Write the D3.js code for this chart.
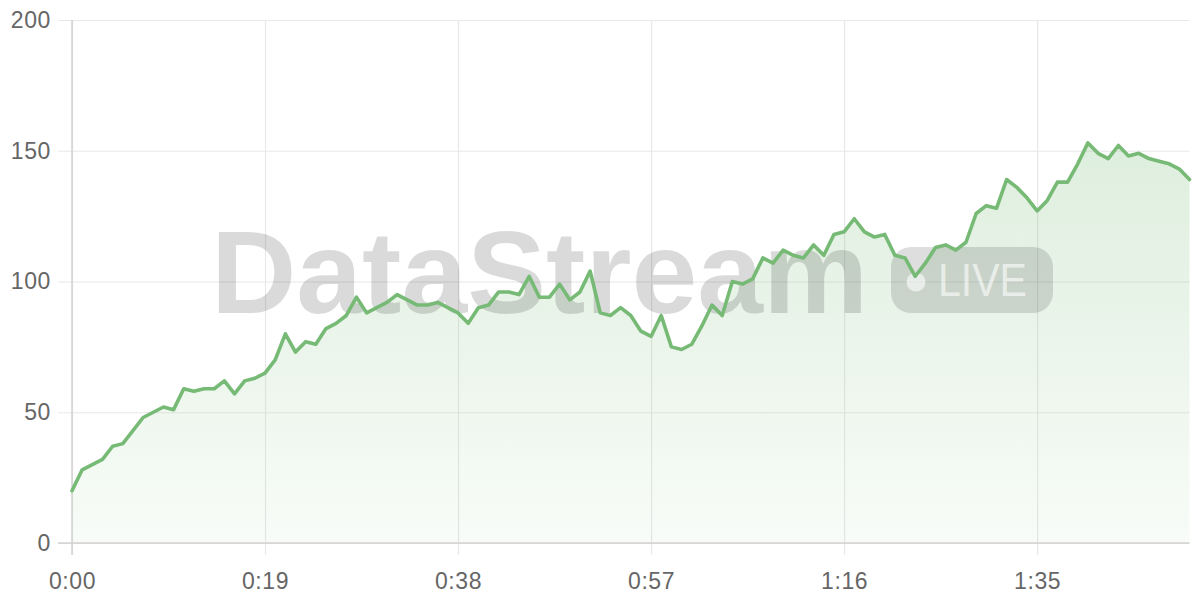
<!DOCTYPE html>
<html>
<head>
<meta charset="utf-8">
<script src="https://cdn.jsdelivr.net/npm/d3@7"></script>
<style>
  html, body { margin: 0; padding: 0; background: #fff; }
  svg { display: block; }
</style>
</head>
<body>
<svg id="chart" width="1200" height="600"></svg>
<script>
// ---- Data ----
const values = [
  20, 28, 30, 32, 37, 38, 43, 48, 50, 52,
  51, 59, 58, 59, 59, 62, 57, 62, 63, 65,
  70, 80, 73, 77, 76, 82, 84, 87, 94, 88,
  90, 92, 95, 93, 91, 91, 92, 90, 88, 84,
  90, 91, 96, 96, 95, 102, 94, 94, 99, 93,
  96, 104, 88, 87, 90, 87, 81, 79, 87, 75,
  74, 76, 83, 91, 87, 100, 99, 101, 109, 107,
  112, 110, 109, 114, 110, 118, 119, 124, 119, 117,
  118, 110, 109, 102, 107, 113, 114, 112, 115, 126,
  129, 128, 139, 136, 132, 127, 131, 138, 138, 145,
  153, 149, 147, 152, 148, 149, 147, 146, 145, 143,
  139
];
const seconds = values.map((_, i) => i);
const xTickSeconds = [0, 19, 38, 57, 76, 95];
const yTicks = [0, 50, 100, 150, 200];
const watermarkText = "DataStream";
const badgeText = "LIVE";

const fmtTime = s => Math.floor(s / 60) + ":" + String(s % 60).padStart(2, "0");

// ---- Layout ----
const svg = d3.select("#chart");
const mLeft = 72, mRight = 1189.5, mTop = 20, mBottom = 543;

const x = d3.scaleLinear().domain([0, 110]).range([mLeft, mRight]);
const y = d3.scaleLinear().domain([0, 200]).range([mBottom, mTop]);

const FONT = "'Liberation Sans', Arial, Helvetica, sans-serif";
const lineColor = "#76ba76";

// gradient
const defs = svg.append("defs");
const grad = defs.append("linearGradient")
  .attr("id", "fillGrad").attr("gradientUnits", "userSpaceOnUse")
  .attr("x1", 0).attr("y1", mTop).attr("x2", 0).attr("y2", mBottom);
grad.append("stop").attr("offset", 0).attr("stop-color", lineColor).attr("stop-opacity", 0.3);
grad.append("stop").attr("offset", 1).attr("stop-color", lineColor).attr("stop-opacity", 0.05);

// horizontal grid (y axis)
const yAxis = d3.axisLeft(y).tickValues(yTicks).tickSize(0).tickFormat(d3.format("d"));
const yg = svg.append("g").attr("transform", `translate(${mLeft},0)`).call(yAxis);
yg.select(".domain").remove();
yg.selectAll(".tick line").attr("x1", -14).attr("x2", mRight - mLeft)
  .attr("stroke", "#e8e8e8").attr("stroke-width", 1.2);
yg.selectAll(".tick text").attr("font-family", FONT).attr("font-size", 23)
  .attr("letter-spacing", 0.6).attr("fill", "#666").attr("x", -21);

// vertical grid (x axis)
const xAxis = d3.axisBottom(x).tickValues(xTickSeconds).tickFormat(fmtTime).tickSize(0);
const xg = svg.append("g").attr("transform", `translate(0,${mBottom})`).call(xAxis);
xg.select(".domain").remove();
xg.selectAll(".tick line").attr("y1", -(mBottom - mTop)).attr("y2", 12)
  .attr("stroke", "#e8e8e8").attr("stroke-width", 1.2);
xg.selectAll(".tick text").attr("font-family", FONT).attr("font-size", 23)
  .attr("letter-spacing", 0.6).attr("fill", "#666").attr("dy", 0).attr("y", 46);

// area
const area = d3.area().x((d, i) => x(seconds[i])).y0(y(0)).y1(d => y(d));
svg.append("path").datum(values).attr("d", area).attr("fill", "url(#fillGrad)");

// axis lines
svg.append("line").attr("x1", mLeft).attr("x2", mLeft).attr("y1", mTop).attr("y2", mBottom + 12)
  .attr("stroke", "#d2d2d2").attr("stroke-width", 1.5);
svg.append("line").attr("x1", mLeft - 14).attr("x2", mRight).attr("y1", mBottom).attr("y2", mBottom)
  .attr("stroke", "#d2d2d2").attr("stroke-width", 1.5);

// watermark
const wm = svg.append("g");
wm.append("text").attr("x", 211).attr("y", 313)
  .attr("font-family", FONT).attr("font-weight", "bold").attr("font-size", 117)
  .attr("textLength", 657).attr("lengthAdjust", "spacingAndGlyphs")
  .attr("fill", "rgba(0,0,0,0.145)").text(watermarkText);
wm.append("rect").attr("x", 891).attr("y", 247).attr("width", 162).attr("height", 66)
  .attr("rx", 20).attr("fill", "rgba(0,0,0,0.13)");
wm.append("circle").attr("cx", 916).attr("cy", 282).attr("r", 9.5).attr("fill", "rgba(255,255,255,0.6)");
wm.append("text").attr("x", 938).attr("y", 296)
  .attr("font-family", FONT).attr("font-size", 46)
  .attr("textLength", 89).attr("lengthAdjust", "spacingAndGlyphs")
  .attr("fill", "rgba(255,255,255,0.6)").text(badgeText);

// line
const line = d3.line().x((d, i) => x(seconds[i])).y(d => y(d));
svg.append("path").datum(values).attr("d", line)
  .attr("fill", "none").attr("stroke", lineColor).attr("stroke-width", 3.6)
  .attr("stroke-linejoin", "round").attr("stroke-linecap", "round");
</script>
</body>
</html>
